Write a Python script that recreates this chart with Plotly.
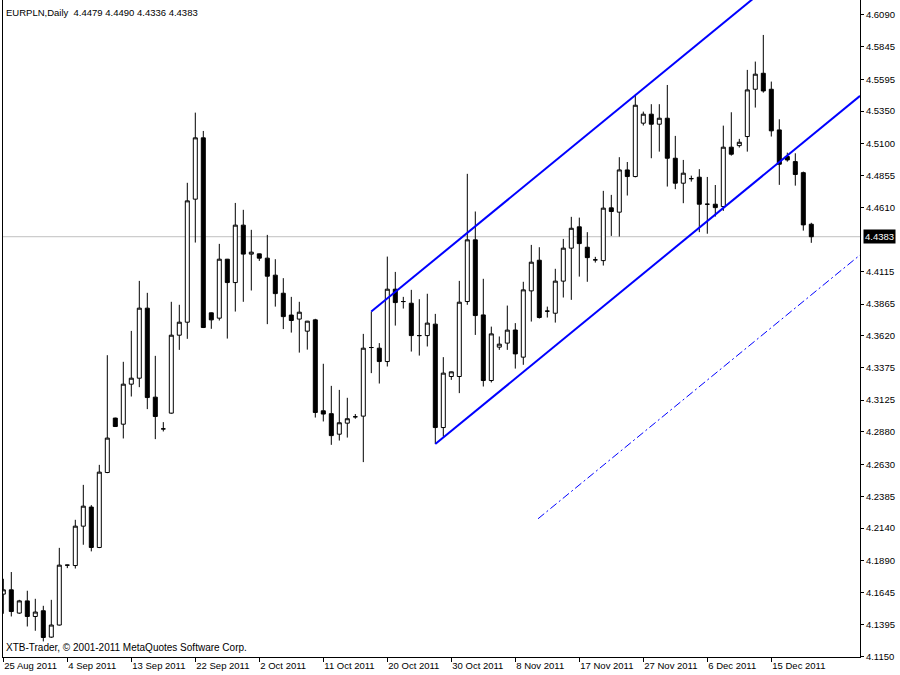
import pandas as pd
import plotly.graph_objects as go

# ---- data ----
dates = pd.bdate_range("2011-08-25", "2011-12-21", freq="C",
                       weekmask="Sun Mon Tue Wed Thu Fri")
opens = [4.1632, 4.1665, 4.1486, 4.1580, 4.1460, 4.1504, 4.1301, 4.1394, 4.1855, 4.1852,
         4.2155, 4.2302, 4.1991, 4.2568, 4.2987, 4.2940, 4.3248, 4.3294, 4.3833, 4.3148,
         4.2904, 4.3025, 4.3625, 4.3725, 4.4672, 4.5144, 4.3797, 4.3756, 4.4210, 4.4030,
         4.4472, 4.4249, 4.4251, 4.4218, 4.4087, 4.3948, 4.3780, 4.3749, 4.3656, 4.3743,
         4.3043, 4.3021, 4.2863, 4.2948, 4.2997, 4.3002, 4.3530, 4.3525, 4.3422, 4.3979,
         4.3884, 4.3871, 4.3622, 4.3622, 4.3710, 4.2914, 4.3307, 4.3307, 4.3884, 4.4359,
         4.3781, 4.3276, 4.3533, 4.3564, 4.3665, 4.3456, 4.3966, 4.4202, 4.3810, 4.3794,
         4.4041, 4.4295, 4.4459, 4.4302, 4.4205, 4.4199, 4.4605, 4.4572, 4.4897, 4.4846,
         4.5257, 4.5326, 4.5249, 4.5295, 4.4987, 4.4795, 4.4830, 4.4841, 4.4633, 4.4633,
         4.4615, 4.5072, 4.5084, 4.5154, 4.5518, 4.5641, 4.5518, 4.5205, 4.5000, 4.4961,
         4.4876, 4.4479]
highs = [4.1750, 4.1802, 4.1588, 4.1658, 4.1596, 4.1542, 4.1588, 4.1988, 4.1858, 4.2204,
         4.2473, 4.2317, 4.2627, 4.3471, 4.2990, 4.3420, 4.3658, 4.4043, 4.3951, 4.3466,
         4.2956, 4.3882, 4.3859, 4.4798, 4.5338, 4.5197, 4.3800, 4.4328, 4.4212, 4.4643,
         4.4590, 4.4436, 4.4253, 4.4397, 4.4210, 4.4064, 4.3920, 4.3882, 4.3735, 4.3751,
         4.3405, 4.3235, 4.3204, 4.3143, 4.3018, 4.3635, 4.3807, 4.3564, 4.4230, 4.4112,
         4.3920, 4.3974, 4.3902, 4.3944, 4.3789, 4.3456, 4.3345, 4.4043, 4.4867, 4.4577,
         4.4059, 4.3691, 4.3615, 4.3853, 4.3718, 4.4036, 4.4320, 4.4302, 4.3845, 4.4136,
         4.4366, 4.4536, 4.4530, 4.4418, 4.4228, 4.4736, 4.4705, 4.4995, 4.4958, 4.5475,
         4.5346, 4.5403, 4.5403, 4.5551, 4.5159, 4.4974, 4.4853, 4.4903, 4.4843, 4.4781,
         4.5238, 4.5341, 4.5136, 4.5667, 4.5731, 4.5936, 4.5577, 4.5287, 4.5030, 4.5025,
         4.4884, 4.4490]
lows = [4.1481, 4.1460, 4.1480, 4.1383, 4.1350, 4.1268, 4.1295, 4.1390, 4.1832, 4.1829,
        4.2012, 4.1961, 4.1986, 4.2563, 4.2920, 4.2830, 4.3153, 4.3225, 4.3056, 4.2825,
        4.2884, 4.3020, 4.3512, 4.3597, 4.4338, 4.3680, 4.3674, 4.3738, 4.3599, 4.3807,
        4.3882, 4.3969, 4.4197, 4.3710, 4.3845, 4.3672, 4.3645, 4.3491, 4.3514, 4.2991,
        4.2961, 4.2781, 4.2814, 4.2837, 4.2982, 4.2648, 4.3333, 4.3253, 4.3384, 4.3699,
        4.3830, 4.3499, 4.3468, 4.3538, 4.2789, 4.2845, 4.3281, 4.3179, 4.3859, 4.3627,
        4.3230, 4.3261, 4.3512, 4.3512, 4.3368, 4.3397, 4.3730, 4.3753, 4.3761, 4.3722,
        4.3915, 4.3897, 4.4076, 4.4036, 4.4184, 4.4161, 4.4389, 4.4384, 4.4700, 4.4840,
        4.5239, 4.4987, 4.5038, 4.4769, 4.4749, 4.4641, 4.4807, 4.4418, 4.4406, 4.4538,
        4.4582, 4.5007, 4.5069, 4.5038, 4.5377, 4.5492, 4.5154, 4.4782, 4.4961, 4.4776,
        4.4430, 4.4336]
closes = [4.1665, 4.1498, 4.1580, 4.1460, 4.1494, 4.1298, 4.1394, 4.1855, 4.1855, 4.2155,
          4.2309, 4.1991, 4.2571, 4.2833, 4.2922, 4.3248, 4.3294, 4.3833, 4.3145, 4.2999,
          4.2904, 4.3625, 4.3725, 4.4659, 4.5144, 4.3684, 4.3743, 4.4210, 4.4030, 4.4472,
          4.4249, 4.4264, 4.4218, 4.4079, 4.3945, 4.3768, 4.3738, 4.3802, 4.3733, 4.3030,
          4.3018, 4.2852, 4.2951, 4.2982, 4.2997, 4.3525, 4.3530, 4.3422, 4.3979, 4.3876,
          4.3884, 4.3622, 4.3622, 4.3718, 4.2914, 4.3333, 4.3343, 4.3879, 4.4359, 4.3776,
          4.3276, 4.3635, 4.3556, 4.3664, 4.3481, 4.3974, 4.4187, 4.3761, 4.3810, 4.4041,
          4.4295, 4.4448, 4.4330, 4.4222, 4.4205, 4.4603, 4.4577, 4.4897, 4.4846, 4.5395,
          4.5326, 4.5249, 4.5295, 4.4987, 4.4795, 4.4872, 4.4830, 4.4633, 4.4633, 4.4607,
          4.5072, 4.5018, 4.5110, 4.5513, 4.5634, 4.5505, 4.5198, 4.4941, 4.4974, 4.4862,
          4.4474, 4.4383]

tick_dates = ["2011-08-25", "2011-09-04", "2011-09-13", "2011-09-22", "2011-10-02",
              "2011-10-11", "2011-10-20", "2011-10-30", "2011-11-08", "2011-11-17",
              "2011-11-27", "2011-12-06", "2011-12-15"]
tick_labels = ["25 Aug 2011", "4 Sep 2011", "13 Sep 2011", "22 Sep 2011", "2 Oct 2011",
               "11 Oct 2011", "20 Oct 2011", "30 Oct 2011", "8 Nov 2011", "17 Nov 2011",
               "27 Nov 2011", "6 Dec 2011", "15 Dec 2011"]
# 4.4365 sits under the current-price box in the reference, so it is not listed
price_ticks = [4.6090, 4.5845, 4.5595, 4.5350, 4.5100, 4.4855, 4.4610, 4.4115,
               4.3865, 4.3620, 4.3375, 4.3125, 4.2880, 4.2630, 4.2385, 4.2140, 4.1890,
               4.1645, 4.1395, 4.1150]
last_price = 4.4383
header_text = "EURPLN,Daily  4.4479 4.4490 4.4336 4.4383"
footer_text = "XTB-Trader, © 2001-2011 MetaQuotes Software Corp."

# trend lines: anchor points (bar position, price)
upper_x = [46, 107.1]
upper_y = [4.3807, 4.6890]
lower_x = [54, 107.1]
lower_y = [4.2787, 4.5467]
dashdot_x = [66.84, 107.1]
dashdot_y = [4.2212, 4.4243]

bar_pos = list(range(len(dates)))
date_list = [d.strftime("%Y-%m-%d") for d in dates]
tick_pos = [date_list.index(d) for d in tick_dates]

FONT = "Liberation Sans"

fig = go.Figure()
fig.add_trace(go.Candlestick(
    x=bar_pos, open=opens, high=highs, low=lows, close=closes,
    increasing=dict(line=dict(color="black", width=1), fillcolor="white"),
    decreasing=dict(line=dict(color="black", width=1), fillcolor="black"),
    whiskerwidth=0, hoverinfo="skip", showlegend=False,
))
fig.add_trace(go.Scatter(x=upper_x, y=upper_y, mode="lines",
                         line=dict(color="#0000FF", width=2), showlegend=False, hoverinfo="skip"))
fig.add_trace(go.Scatter(x=lower_x, y=lower_y, mode="lines",
                         line=dict(color="#0000FF", width=2), showlegend=False, hoverinfo="skip"))
fig.add_trace(go.Scatter(x=dashdot_x, y=dashdot_y, mode="lines",
                         line=dict(color="#0000FF", width=1, dash="8px,3px,2px,3px"),
                         showlegend=False, hoverinfo="skip"))

fig.add_shape(type="line", xref="paper", x0=0, x1=1, yref="y", y0=last_price, y1=last_price,
              line=dict(color="#C0C0C0", width=1), layer="below")

fig.add_annotation(xref="paper", x=1, xanchor="left", xshift=3, yref="y", y=last_price,
                   yanchor="middle", text=f"{last_price:.4f}", showarrow=False,
                   bgcolor="black", font=dict(family=FONT, size=9.5, color="white"), borderpad=1)
fig.add_annotation(xref="paper", x=0, xanchor="left", xshift=1, yref="paper", y=1,
                   yanchor="middle", yshift=-12, text=header_text, showarrow=False,
                   font=dict(family=FONT, size=9.5, color="black"))
fig.add_annotation(xref="paper", x=0, xanchor="left", xshift=1, yref="paper", y=0,
                   yanchor="middle", yshift=10, text=footer_text, showarrow=False,
                   font=dict(family=FONT, size=10, color="black"))

fig.update_layout(
    width=900, height=675,
    margin=dict(l=3, r=40, t=0, b=18),
    paper_bgcolor="white", plot_bgcolor="white",
    boxgap=0.5, boxgroupgap=0,
    font=dict(family=FONT, size=9, color="black"),
    xaxis=dict(range=[-0.0375, 107.0875], tickmode="array", tickvals=tick_pos,
               ticktext=tick_labels, ticks="outside", ticklen=4, tickcolor="black",
               ticklabelposition="outside right", showgrid=False, zeroline=False,
               showline=True, linecolor="black", linewidth=1,
               rangeslider=dict(visible=False), tickfont=dict(family=FONT, size=9.5)),
    yaxis=dict(range=[4.1148, 4.6205], side="right", tickmode="array",
               tickvals=price_ticks, ticktext=[f"{v:.4f}" for v in price_ticks],
               ticks="outside", ticklen=3, tickcolor="black", showgrid=False,
               zeroline=False, showline=True, linecolor="black", linewidth=1,
               mirror=True, tickfont=dict(family=FONT, size=9.5)),
)

fig.write_html("out.html", config={"displayModeBar": False},
               post_script="document.body.style.margin='0';")
